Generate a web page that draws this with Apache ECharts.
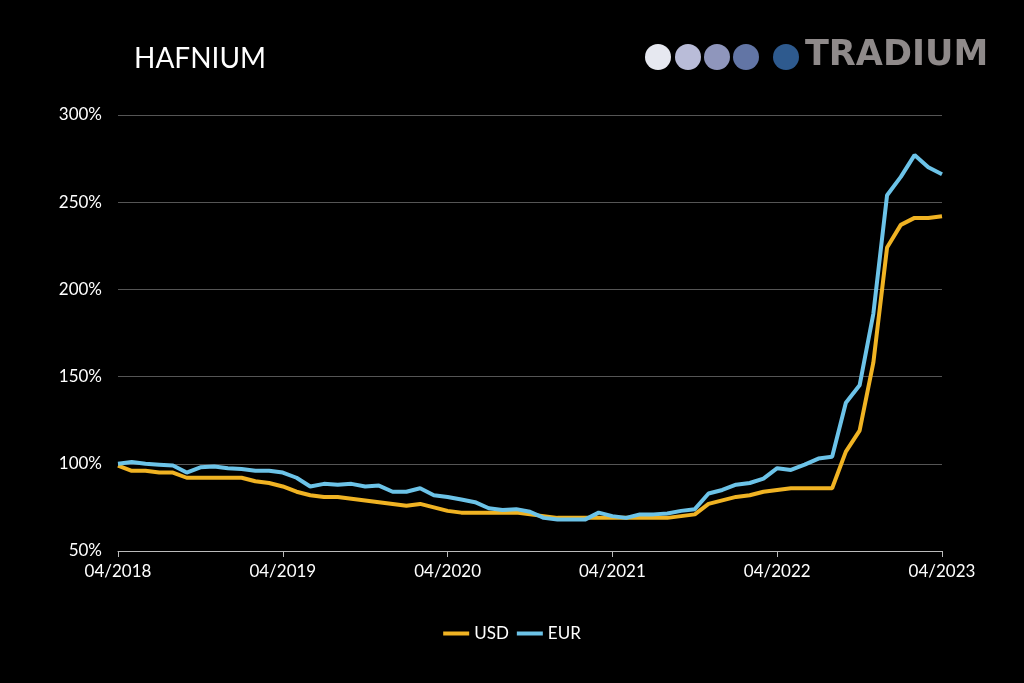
<!DOCTYPE html>
<html><head><meta charset="utf-8">
<script src="https://cdn.jsdelivr.net/npm/echarts@6/dist/echarts.min.js"></script>
<style>html,body{margin:0;background:#000}#c{width:1024px;height:683px}</style>
</head><body><div id="c"></div>
<script>
const months = [];
for (let y = 2018; y <= 2023; y++) for (let m = 1; m <= 12; m++) {
  if ((y === 2018 && m < 4) || (y === 2023 && m > 4)) continue;
  months.push(String(m).padStart(2, '0') + '/' + y);
}
const usd = [99,96,96,95,95,92,92,92,92,92,90,89,87,84,82,81,81,80,79,78,77,76,77,75,73,72,72,72,72,72,71,70,69,69,69,69,69,69,69,69,69,70,71,77,79,81,82,84,85,86,86,86,86,107,119,158,224,237,241,241,242];
const eur = [100,101,100,99.5,99,95,98,98.5,97.5,97,96,96,95,92,87,88.5,88,88.5,87,87.5,84,84,86,82,81,79.5,78,74.5,73.5,74,72.5,69,68,68,68,72,70,69,71,71,71.5,73,74,83,85,88,89,91.5,97.5,96.5,99.5,103,104,135,145,186,254,264.5,277,270,266];
const chart = echarts.init(document.getElementById('c'));
chart.setOption({
  backgroundColor: '#000',
  graphic: [
    {type:'text', left:134, top:45, style:{text:'HAFNIUM', fill:'#fff', font:'28px Lato'}},
    {type:'circle', shape:{cx:658,cy:57,r:13}, style:{fill:'#e6e8f0'}},
    {type:'circle', shape:{cx:688,cy:57,r:13}, style:{fill:'#b9bcd8'}},
    {type:'circle', shape:{cx:717,cy:57,r:13}, style:{fill:'#8f96bc'}},
    {type:'circle', shape:{cx:746,cy:57,r:13}, style:{fill:'#6275a5'}},
    {type:'circle', shape:{cx:786,cy:57,r:13}, style:{fill:'#2e5a8e'}},
    {type:'text', left:805, top:38, style:{text:'TRADIUM', fill:'#8f8a8a', font:'bold 35px "DejaVu Sans"'}}
  ],
  grid: {left:118, right:82, top:115, bottom:132},
  legend: {bottom:36, left:'center', itemWidth:26, itemHeight:4, icon:'rect',
    textStyle:{color:'#fff', fontSize:17, fontFamily:'Lato'}, data:['USD','EUR']},
  xAxis: {type:'category', data:months, boundaryGap:false,
    axisLine:{lineStyle:{color:'#bbb'}},
    axisTick:{interval:11, alignWithLabel:true, lineStyle:{color:'#bbb'}, length:6},
    axisLabel:{interval:11, color:'#fff', fontSize:17, fontFamily:'Lato', margin:12}},
  yAxis: {type:'value', min:50, max:300, interval:50,
    axisLabel:{formatter:'{value}%', color:'#fff', fontSize:17, fontFamily:'Lato', margin:16},
    splitLine:{lineStyle:{color:'#555'}}, axisLine:{show:false}, axisTick:{show:false}},
  series: [
    {name:'USD', type:'line', data:usd, showSymbol:false, lineStyle:{width:4, color:'#f0b323'}, itemStyle:{color:'#f0b323'}},
    {name:'EUR', type:'line', data:eur, showSymbol:false, lineStyle:{width:4, color:'#6cc3e8'}, itemStyle:{color:'#6cc3e8'}}
  ]
});
</script></body></html>
